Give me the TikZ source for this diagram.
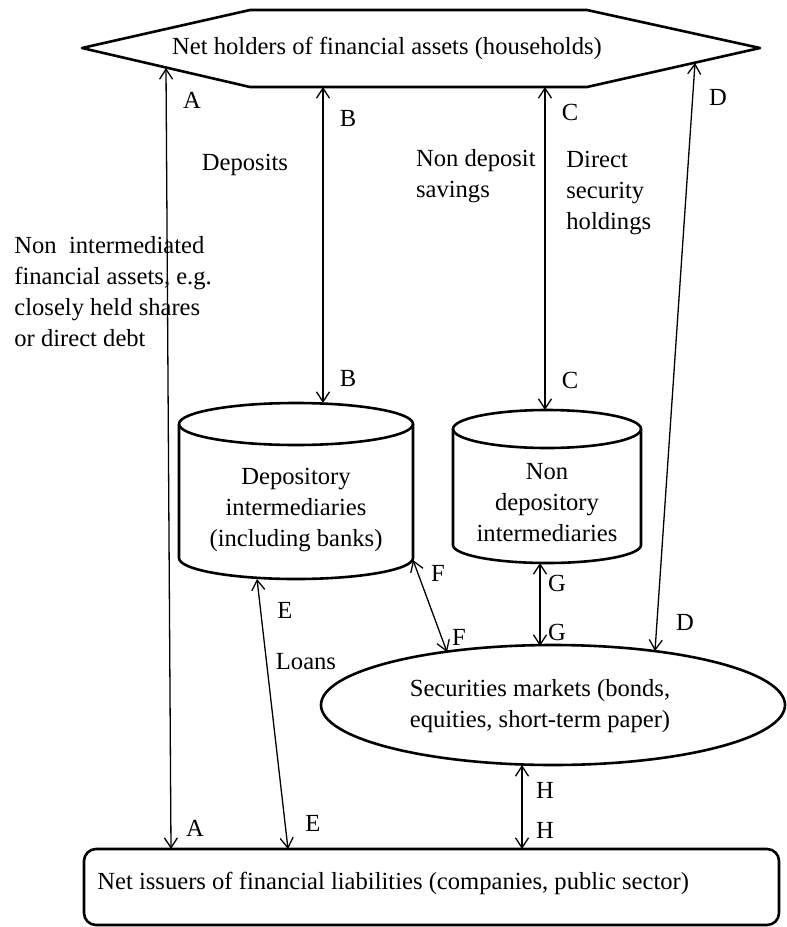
\documentclass[tikz,border=0pt]{standalone}
\usepackage{fontspec}
\setmainfont{Liberation Serif}
\usetikzlibrary{arrows.meta}

\begin{document}
\begin{tikzpicture}[x=0.5pt, y=0.5pt,
    font=\fontsize{12.3}{15.5}\selectfont,
    shp/.style={line width=1.3pt, line join=round},
    link/.style={line width=0.65pt, {Straight Barb[length=5pt,width=6.5pt]}-{Straight Barb[length=5pt,width=6.5pt]}},
    lbl/.style={inner sep=0pt},
    txt/.style={align=center, inner sep=0pt}]
  \useasboundingbox (0,0) rectangle (787,-927);

  % households
  \draw[shp] (82,-48) -- (250,-10) -- (587,-10) -- (760,-48) -- (587,-87) -- (250,-87) -- cycle;
  \node[txt] (hold) at (387,-48) {Net holders of financial assets (households)};

  % depository intermediaries
  \draw[shp] (179,-424) -- (179,-558) arc[start angle=180, end angle=360, x radius=58.5pt, y radius=10.5pt] -- (413,-424);
  \draw[shp] (296,-424) ellipse[x radius=58.5pt, y radius=10.5pt];
  \node[txt] (dep) at (296,-510) {Depository\\intermediaries\\(including banks)};

  % non depository intermediaries
  \draw[shp] (453,-429) -- (453,-545) arc[start angle=180, end angle=360, x radius=47pt, y radius=9pt] -- (641,-429);
  \draw[shp] (547,-429) ellipse[x radius=47pt, y radius=9.5pt];
  \node[txt] (nondep) at (547,-503) {Non\\depository\\intermediaries};

  % securities markets
  \draw[shp] (553,-705) ellipse[x radius=116pt, y radius=30pt];
  \node[txt] (sec) at (540,-706) {Securities markets (bonds,\\equities, short-term paper)};

  % issuers
  \draw[shp, rounded corners=6pt] (84,-849) rectangle (779,-925);
  \node[lbl, anchor=west] (issue) at (97,-883) {Net issuers of financial liabilities (companies, public sector)};

  % flows
  \coordinate (a1) at (166,-68);  \coordinate (a2) at (171,-849);
  \coordinate (b1) at (323,-87);  \coordinate (b2) at (323,-403);
  \coordinate (c1) at (545,-87);  \coordinate (c2) at (545,-410);
  \coordinate (d1) at (695,-63);  \coordinate (d2) at (655,-651);
  \coordinate (e1) at (257,-579); \coordinate (e2) at (288,-849);
  \coordinate (f1) at (413,-560); \coordinate (f2) at (447,-652);
  \coordinate (g1) at (540,-563); \coordinate (g2) at (540,-646);
  \coordinate (h1) at (522,-765); \coordinate (h2) at (522,-849);
  \foreach \p in {a,b,c,d,e,f,g,h}
    \draw[link] (\p1) -- (\p2);

  \foreach \t/\x/\y [count=\i] in {A/192/100, A/195/828, B/348/118, B/348/378,
      C/570/112, C/570/380, D/718/97, D/685/622, E/285/610, E/313/823,
      F/438/573, F/459/637, G/557/583, G/557/632, H/545/790, H/545/830}
    \node[lbl] (lab\i) at (\x,-\y) {\t};

  \node[lbl, anchor=west, align=left] (nonint) at (14,-292) {Non~ intermediated\\financial assets, e.g.\\closely held shares\\or direct debt};
  \node[lbl] (deposits) at (245,-165) {Deposits};
  \node[lbl, anchor=east, align=left] (ndsav) at (536,-176) {Non deposit\\savings};
  \node[lbl, anchor=west, align=left] (direct) at (566,-193) {Direct\\security\\holdings};
  \node[lbl] (loans) at (306,-662) {Loans};
\end{tikzpicture}
\end{document}
